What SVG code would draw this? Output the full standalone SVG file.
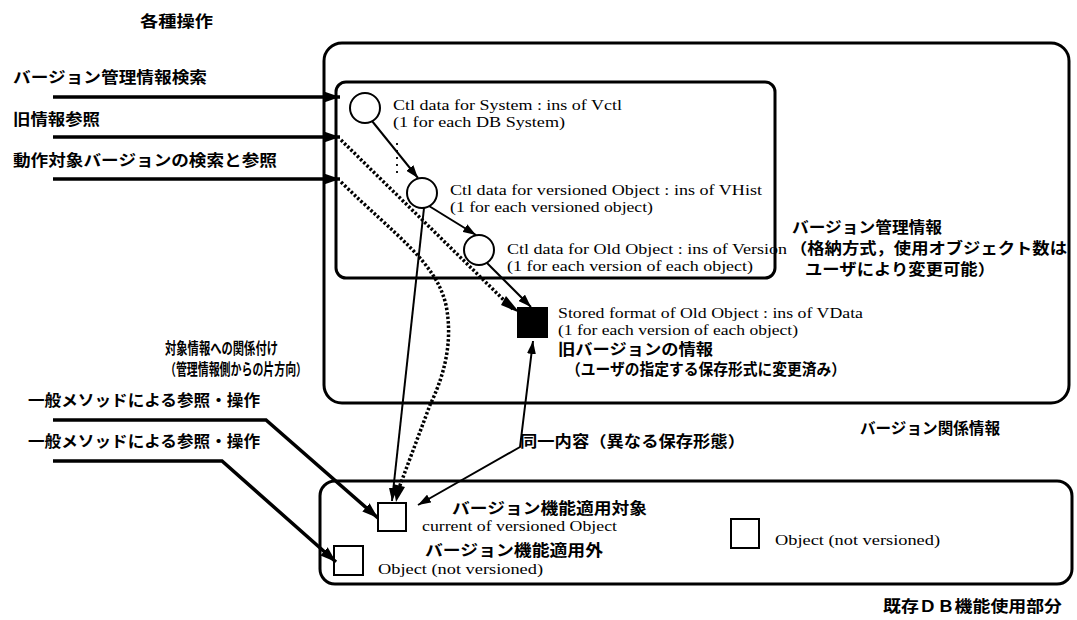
<svg xmlns="http://www.w3.org/2000/svg" width="1077" height="620" viewBox="0 0 1077 620">
<style>
.jp{font-family:"Noto Sans CJK JP","Noto Sans CJK SC",sans-serif;font-size:15.5px;font-weight:bold;fill:#000}
.en{font-family:"Liberation Serif",serif;font-size:15px;fill:#000}
.box{fill:none;stroke:#000;stroke-width:3}
.nd{fill:#fff;stroke:#000;stroke-width:2}
.ln{fill:none;stroke:#000;stroke-width:2}
.thk{fill:none;stroke:#000;stroke-width:3.5}
.dot{fill:none;stroke:#000;stroke-width:3.5;stroke-dasharray:2.5 2}
.vdots{fill:none;stroke:#000;stroke-width:1.8;stroke-dasharray:2 5}
</style>
<defs>
<marker id="ah" markerUnits="userSpaceOnUse" markerWidth="13" markerHeight="9" refX="13" refY="4.5" orient="auto-start-reverse">
<path d="M0,0 L13,4.5 L0,9 z" fill="#000"/>
</marker>
<marker id="ahb" markerUnits="userSpaceOnUse" markerWidth="16" markerHeight="11" refX="16" refY="5.5" orient="auto">
<path d="M0,0 L16,5.5 L0,11 z" fill="#000"/>
</marker>
</defs>
<rect width="1077" height="620" fill="#fff"/>

<g id="outer-box">
<rect class="box" x="324" y="43" width="745" height="360" rx="18"/>
<text class="jp" x="860" y="434" textLength="140" lengthAdjust="spacingAndGlyphs">バージョン関係情報</text>
</g>
<g id="inner-box">
<rect class="box" x="336" y="82" width="439" height="196" rx="10"/>
<text class="jp" x="792" y="233" textLength="150" lengthAdjust="spacingAndGlyphs">バージョン管理情報</text>
<text class="jp" x="790" y="254" textLength="277" lengthAdjust="spacingAndGlyphs">（格納方式，使用オブジェクト数は</text>
<text class="jp" x="805" y="275" textLength="190" lengthAdjust="spacingAndGlyphs">ユーザにより変更可能）</text>
</g>
<g id="db-box">
<rect class="box" x="320" y="481" width="752" height="103" rx="15"/>
<text class="jp" x="883" y="612" textLength="179" lengthAdjust="spacingAndGlyphs">既存ＤＢ機能使用部分</text>
</g>

<g id="labels">
<text class="jp" x="140" y="27" textLength="73" lengthAdjust="spacingAndGlyphs">各種操作</text>
<text class="jp" x="13" y="83" textLength="194" lengthAdjust="spacingAndGlyphs">バージョン管理情報検索</text>
<text class="jp" x="13" y="125" textLength="87" lengthAdjust="spacingAndGlyphs">旧情報参照</text>
<text class="jp" x="13" y="166" textLength="264" lengthAdjust="spacingAndGlyphs">動作対象バージョンの検索と参照</text>
<text class="jp" x="165" y="354" textLength="113" lengthAdjust="spacingAndGlyphs">対象情報への関係付け</text>
<text class="jp" x="165" y="375" textLength="142" lengthAdjust="spacingAndGlyphs">（管理情報側からの片方向）</text>
<text class="jp" x="28" y="406" textLength="232" lengthAdjust="spacingAndGlyphs">一般メソッドによる参照・操作</text>
<text class="jp" x="28" y="447" textLength="232" lengthAdjust="spacingAndGlyphs">一般メソッドによる参照・操作</text>
<text class="jp" x="520" y="447" textLength="225" lengthAdjust="spacingAndGlyphs">同一内容（異なる保存形態）</text>
</g>

<g id="vctl">
<circle class="nd" cx="365" cy="108" r="15"/>
<text class="en" x="393" y="110" textLength="229" lengthAdjust="spacingAndGlyphs">Ctl data for System : ins of Vctl</text>
<text class="en" x="393" y="127" textLength="172" lengthAdjust="spacingAndGlyphs">(1 for each DB System)</text>
</g>
<g id="vhist">
<circle class="nd" cx="422" cy="193" r="15"/>
<text class="en" x="450" y="195" textLength="312" lengthAdjust="spacingAndGlyphs">Ctl data for versioned Object : ins of VHist</text>
<text class="en" x="450" y="212" textLength="203" lengthAdjust="spacingAndGlyphs">(1 for each versioned object)</text>
</g>
<g id="version">
<circle class="nd" cx="479" cy="250" r="15"/>
<text class="en" x="507" y="254" textLength="280" lengthAdjust="spacingAndGlyphs">Ctl data for Old Object : ins of Version</text>
<text class="en" x="507" y="271" textLength="246" lengthAdjust="spacingAndGlyphs">(1 for each version of each object)</text>
</g>
<g id="vdata">
<rect x="517" y="307" width="31" height="31" fill="#000"/>
<text class="en" x="558" y="318" textLength="305" lengthAdjust="spacingAndGlyphs">Stored format of Old Object : ins of VData</text>
<text class="en" x="558" y="335" textLength="240" lengthAdjust="spacingAndGlyphs">(1 for each version of each object)</text>
<text class="jp" x="558" y="355" textLength="155" lengthAdjust="spacingAndGlyphs">旧バージョンの情報</text>
<text class="jp" x="566" y="375" textLength="280" lengthAdjust="spacingAndGlyphs">（ユーザの指定する保存形式に変更済み）</text>
</g>
<g id="current-object">
<rect class="nd" x="378" y="503" width="28" height="28"/>
<text class="jp" x="452" y="514" textLength="195" lengthAdjust="spacingAndGlyphs">バージョン機能適用対象</text>
<text class="en" x="422" y="531" textLength="195" lengthAdjust="spacingAndGlyphs">current of versioned Object</text>
</g>
<g id="object-left">
<rect class="nd" x="334" y="546" width="29" height="29"/>
<text class="jp" x="425" y="556" textLength="178" lengthAdjust="spacingAndGlyphs">バージョン機能適用外</text>
<text class="en" x="378" y="574" textLength="165" lengthAdjust="spacingAndGlyphs">Object  (not versioned)</text>
</g>
<g id="object-right">
<rect class="nd" x="731" y="519" width="28" height="29"/>
<text class="en" x="775" y="545" textLength="165" lengthAdjust="spacingAndGlyphs">Object  (not versioned)</text>
</g>

<g id="connectors">
<line class="thk" x1="53" y1="97" x2="340" y2="97" marker-end="url(#ahb)"/>
<line class="thk" x1="53" y1="137" x2="340" y2="137" marker-end="url(#ahb)"/>
<line class="thk" x1="53" y1="179" x2="340" y2="179" marker-end="url(#ahb)"/>
<line class="ln" x1="372" y1="121" x2="418" y2="178" marker-end="url(#ah)"/>
<line class="vdots" x1="397" y1="143" x2="397" y2="176"/>
<line class="ln" x1="429" y1="206" x2="476" y2="235" marker-end="url(#ah)"/>
<line class="ln" x1="487" y1="263" x2="531" y2="307" marker-end="url(#ah)"/>
<path class="dot" d="M341,140 L514,310"/>
<path d="M506,296 L520,313 L501,305 z" fill="#000"/>
<path class="dot" d="M341,182 C395,235 436,262 446,305 C454,345 442,380 430,405 L399,488"/>
<path d="M393,484 L396,502 L405,487 z" fill="#000"/>
<line class="ln" x1="424" y1="208" x2="392" y2="501" marker-end="url(#ah)"/>
<polyline class="ln" points="533,341 520,447 418,505" marker-start="url(#ah)" marker-end="url(#ah)"/>
<polyline class="thk" points="53,420 266,420 378,518" marker-end="url(#ahb)"/>
<polyline class="thk" points="53,461 222,461 336,562" marker-end="url(#ahb)"/>
</g>
</svg>
